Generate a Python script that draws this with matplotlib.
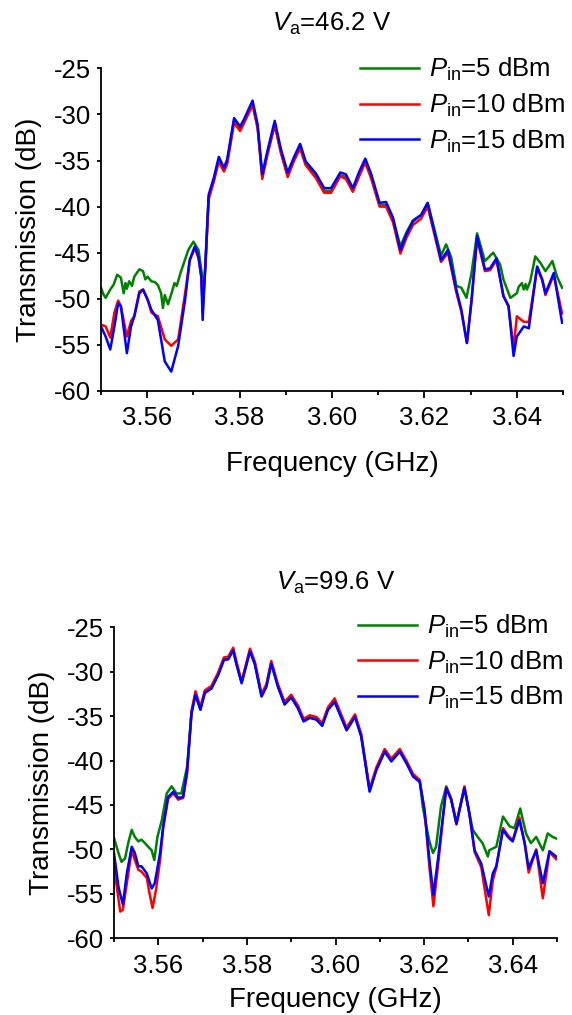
import numpy as np
import matplotlib
matplotlib.use("Agg")
import matplotlib.pyplot as plt
from matplotlib.ticker import MultipleLocator

plt.rcParams['font.family'] = 'Liberation Sans'
plt.rcParams['mathtext.fontset'] = 'custom'
plt.rcParams['mathtext.rm'] = 'Liberation Sans'
plt.rcParams['mathtext.it'] = 'Liberation Sans:italic'
plt.rcParams['axes.unicode_minus'] = False

# ---- V_a = 46.2 V ----
f_top_blue = [3.5500, 3.5510, 3.5520, 3.5529, 3.5537, 3.5543, 3.5556, 3.5565, 3.5572, 3.5583,
              3.5591, 3.5601, 3.5609, 3.5623, 3.5638, 3.5652, 3.5667, 3.5682, 3.5692, 3.5703,
              3.5711, 3.5717, 3.5720, 3.5726, 3.5733, 3.5744, 3.5755, 3.5766, 3.5773, 3.5788,
              3.5801, 3.5809, 3.5828, 3.5839, 3.5849, 3.5860, 3.5876, 3.5889, 3.5904, 3.5918,
              3.5931, 3.5943, 3.5965, 3.5983, 3.5998, 3.6018, 3.6030, 3.6045, 3.6059, 3.6072,
              3.6085, 3.6103, 3.6117, 3.6132, 3.6148, 3.6161, 3.6175, 3.6193, 3.6207, 3.6236,
              3.6251, 3.6269, 3.6280, 3.6292, 3.6302, 3.6314, 3.6331, 3.6342, 3.6356, 3.6371,
              3.6382, 3.6393, 3.6400, 3.6415, 3.6426, 3.6444, 3.6455, 3.6462, 3.6480, 3.6498]
db_top_blue = [-53.0, -54.1, -55.5, -53.0, -50.5, -50.8, -55.9, -53.0, -51.9, -49.4,
               -49.0, -50.1, -51.2, -52.3, -56.8, -57.9, -55.1, -50.1, -45.8, -44.3,
               -45.4, -47.6, -52.3, -46.0, -38.7, -36.9, -34.6, -35.8, -34.9, -30.4,
               -31.3, -30.6, -28.5, -31.1, -36.5, -34.0, -30.7, -33.7, -36.3, -34.6,
               -33.2, -35.1, -36.4, -38.0, -38.0, -36.3, -36.5, -38.0, -36.2, -34.8,
               -36.5, -39.6, -39.5, -41.2, -44.7, -43.0, -41.6, -40.9, -39.6, -45.8,
               -44.7, -49.0, -51.2, -54.8, -50.1, -43.2, -46.8, -46.7, -45.6, -49.7,
               -50.8, -56.2, -54.1, -53.0, -53.2, -46.5, -47.9, -49.4, -47.2, -52.6]

f_top_red = f_top_blue
db_top_red = [-52.8, -53.0, -54.2, -51.5, -50.2, -50.8, -54.1, -52.4, -51.9, -49.2,
              -49.0, -50.1, -51.5, -51.9, -54.4, -55.1, -54.4, -49.4, -45.8, -44.5,
              -45.6, -47.6, -50.5, -46.5, -39.2, -37.3, -35.1, -36.2, -35.4, -30.9,
              -31.8, -31.0, -29.0, -31.5, -37.0, -34.4, -31.2, -34.1, -36.8, -35.0,
              -33.7, -35.5, -36.9, -38.5, -38.5, -36.7, -37.0, -38.4, -36.7, -35.2,
              -37.0, -40.0, -40.0, -41.7, -45.1, -43.4, -42.0, -41.3, -40.0, -46.0,
              -45.0, -49.3, -51.4, -54.8, -50.3, -43.5, -47.0, -46.9, -45.8, -49.7,
              -50.8, -55.4, -51.9, -52.5, -52.5, -46.6, -48.0, -49.6, -47.4, -51.6]

f_top_green = [3.5500, 3.5505, 3.5510, 3.5520, 3.5527, 3.5535, 3.5543, 3.5549, 3.5553, 3.5556,
               3.5561, 3.5567, 3.5572, 3.5583, 3.5591, 3.5596, 3.5601, 3.5609, 3.5617, 3.5623,
               3.5630, 3.5634, 3.5638, 3.5645, 3.5652, 3.5659, 3.5664, 3.5672, 3.5689, 3.5700,
               3.5711, 3.5718, 3.5720, 3.5726, 3.5733, 3.5744, 3.5755, 3.5766, 3.5773, 3.5788,
               3.5801, 3.5809, 3.5828, 3.5839, 3.5849, 3.5860, 3.5876, 3.5889, 3.5904, 3.5918,
               3.5931, 3.5943, 3.5965, 3.5983, 3.5998, 3.6018, 3.6030, 3.6045, 3.6059, 3.6072,
               3.6085, 3.6103, 3.6117, 3.6132, 3.6148, 3.6161, 3.6175, 3.6193, 3.6207, 3.6236,
               3.6247, 3.6258, 3.6269, 3.6280, 3.6291, 3.6302, 3.6314, 3.6331, 3.6349, 3.6364,
               3.6371, 3.6386, 3.6400, 3.6404, 3.6411, 3.6415, 3.6419, 3.6422, 3.6429, 3.6440,
               3.6451, 3.6462, 3.6477, 3.6487, 3.6498]
db_top_green = [-48.8, -49.5, -49.9, -49.0, -48.5, -47.4, -47.7, -49.4, -48.3, -48.9,
                -48.1, -48.6, -47.6, -46.8, -47.0, -47.9, -47.6, -48.1, -48.2, -48.5,
                -49.4, -51.0, -49.6, -50.6, -49.5, -48.3, -48.6, -47.2, -44.7, -43.8,
                -44.7, -47.2, -51.5, -46.3, -39.0, -37.2, -34.9, -36.1, -35.2, -30.7,
                -31.6, -30.9, -28.8, -31.4, -36.8, -34.3, -31.0, -34.0, -36.6, -34.9,
                -33.5, -35.4, -36.7, -38.3, -38.3, -36.6, -36.8, -38.3, -36.5, -35.1,
                -36.8, -39.9, -39.8, -41.4, -44.3, -42.8, -41.5, -40.9, -39.6, -45.3,
                -44.1, -45.5, -48.6, -48.8, -49.9, -47.2, -42.9, -45.9, -45.0, -46.3,
                -47.9, -49.9, -49.4, -48.7, -48.3, -49.0, -48.4, -49.0, -48.1, -45.4,
                -46.1, -47.0, -45.9, -47.6, -48.8]

# ---- V_a = 99.6 V ----
f_bot_blue = [3.5500, 3.5510, 3.5520, 3.5529, 3.5540, 3.5547, 3.5555, 3.5562, 3.5574, 3.5585,
              3.5592, 3.5604, 3.5611, 3.5622, 3.5634, 3.5645, 3.5656, 3.5665, 3.5675, 3.5684,
              3.5695, 3.5705, 3.5720, 3.5735, 3.5748, 3.5758, 3.5769, 3.5776, 3.5788, 3.5807,
              3.5818, 3.5833, 3.5844, 3.5855, 3.5870, 3.5885, 3.5900, 3.5915, 3.5928, 3.5942,
              3.5957, 3.5970, 3.5983, 3.5998, 3.6025, 3.6044, 3.6058, 3.6077, 3.6092, 3.6111,
              3.6126, 3.6145, 3.6160, 3.6175, 3.6190, 3.6201, 3.6212, 3.6221, 3.6231, 3.6250,
              3.6261, 3.6273, 3.6291, 3.6302, 3.6314, 3.6329, 3.6346, 3.6355, 3.6363, 3.6378,
              3.6389, 3.6400, 3.6415, 3.6427, 3.6436, 3.6453, 3.6468, 3.6483, 3.6498]
db_bot_blue = [-50.4, -54.2, -56.2, -52.7, -49.7, -50.4, -51.9, -51.9, -52.7, -54.4,
               -53.8, -50.4, -47.4, -44.1, -43.5, -44.2, -44.1, -41.1, -34.7, -32.6,
               -34.3, -32.4, -31.9, -30.4, -28.7, -28.6, -27.6, -29.1, -31.3, -27.7,
               -29.2, -32.8, -31.7, -29.1, -31.7, -33.7, -32.9, -34.1, -35.6, -35.2,
               -35.4, -36.1, -34.3, -33.4, -36.6, -35.1, -37.3, -43.5, -41.1, -39.0,
               -40.1, -39.0, -40.3, -41.8, -42.4, -45.6, -51.2, -55.1, -51.2, -43.1,
               -44.4, -47.1, -43.1, -45.9, -50.1, -51.6, -55.3, -52.7, -51.9, -47.8,
               -48.6, -49.1, -46.7, -49.3, -52.1, -50.1, -53.8, -50.2, -50.8]

f_bot_red = [3.5500, 3.5514, 3.5520, 3.5529, 3.5540, 3.5547, 3.5555, 3.5562, 3.5574, 3.5580,
             3.5587, 3.5595, 3.5604, 3.5611, 3.5622, 3.5634, 3.5645, 3.5656, 3.5665, 3.5675,
             3.5684, 3.5695, 3.5705, 3.5720, 3.5735, 3.5748, 3.5758, 3.5769, 3.5776, 3.5788,
             3.5807, 3.5818, 3.5833, 3.5844, 3.5855, 3.5870, 3.5885, 3.5900, 3.5915, 3.5928,
             3.5942, 3.5957, 3.5970, 3.5983, 3.5998, 3.6025, 3.6044, 3.6058, 3.6077, 3.6092,
             3.6111, 3.6126, 3.6145, 3.6160, 3.6175, 3.6190, 3.6201, 3.6212, 3.6221, 3.6231,
             3.6250, 3.6261, 3.6273, 3.6291, 3.6302, 3.6314, 3.6329, 3.6346, 3.6355, 3.6363,
             3.6378, 3.6389, 3.6400, 3.6415, 3.6427, 3.6436, 3.6453, 3.6468, 3.6483, 3.6498]
db_bot_red = [-51.9, -57.0, -56.8, -53.8, -50.1, -51.2, -52.3, -52.5, -53.2, -54.9,
              -56.6, -54.5, -51.2, -47.6, -44.3, -43.7, -44.4, -44.2, -41.5, -34.4,
              -32.2, -34.0, -32.1, -31.6, -30.1, -28.4, -28.3, -27.3, -28.8, -31.1,
              -27.4, -28.9, -32.5, -31.4, -28.8, -31.4, -33.4, -32.6, -33.8, -35.3,
              -34.9, -35.1, -35.8, -34.0, -33.0, -36.3, -34.8, -37.0, -43.2, -40.8,
              -38.7, -39.8, -38.7, -40.0, -41.5, -42.2, -45.6, -52.0, -56.4, -52.0,
              -43.0, -44.3, -47.2, -42.9, -45.9, -50.3, -52.0, -57.4, -53.5, -52.0,
              -47.6, -48.4, -49.0, -46.4, -49.3, -52.6, -50.0, -55.5, -50.3, -51.1]

f_bot_green = [3.5500, 3.5510, 3.5517, 3.5525, 3.5532, 3.5540, 3.5547, 3.5555, 3.5562, 3.5570,
               3.5577, 3.5585, 3.5591, 3.5598, 3.5608, 3.5619, 3.5630, 3.5641, 3.5652, 3.5665,
               3.5675, 3.5684, 3.5695, 3.5705, 3.5720, 3.5735, 3.5748, 3.5758, 3.5769, 3.5776,
               3.5788, 3.5807, 3.5818, 3.5833, 3.5844, 3.5855, 3.5870, 3.5885, 3.5900, 3.5915,
               3.5928, 3.5942, 3.5957, 3.5970, 3.5983, 3.5998, 3.6025, 3.6044, 3.6058, 3.6077,
               3.6092, 3.6111, 3.6126, 3.6145, 3.6160, 3.6175, 3.6190, 3.6197, 3.6205, 3.6212,
               3.6220, 3.6227, 3.6238, 3.6250, 3.6261, 3.6273, 3.6291, 3.6302, 3.6310, 3.6321,
               3.6332, 3.6344, 3.6347, 3.6355, 3.6363, 3.6378, 3.6393, 3.6404, 3.6417, 3.6430,
               3.6441, 3.6453, 3.6468, 3.6479, 3.6490, 3.6505]
db_bot_green = [-48.7, -50.4, -51.4, -51.0, -49.3, -47.8, -48.6, -49.1, -48.9, -49.3,
                -49.7, -50.1, -51.2, -48.6, -46.7, -43.7, -42.9, -43.7, -43.7, -40.7,
                -34.6, -32.5, -34.2, -32.3, -31.8, -30.3, -28.6, -28.5, -27.5, -29.0,
                -31.2, -27.6, -29.1, -32.7, -31.6, -29.0, -31.6, -33.6, -32.8, -34.0,
                -35.5, -35.1, -35.3, -36.0, -34.2, -33.3, -36.5, -35.0, -37.2, -43.4,
                -41.0, -38.9, -40.0, -38.9, -40.2, -41.6, -42.2, -45.2, -47.4, -49.1,
                -50.4, -49.7, -45.2, -42.9, -44.3, -47.0, -43.0, -45.9, -47.8, -48.6,
                -49.3, -50.8, -50.1, -49.9, -49.7, -46.3, -47.4, -47.6, -45.4, -48.2,
                -49.3, -48.6, -50.1, -48.2, -48.6, -48.9]

labels = [r'$P_{\mathrm{in}}$=5 dBm', r'$P_{\mathrm{in}}$=10 dBm', r'$P_{\mathrm{in}}$=15 dBm']
colors = ['#008000', '#ff0000', '#0000ff']
yticks = [-25, -30, -35, -40, -45, -50, -55, -60]


def draw_panel(ax, curves, title, leg_anchor, xpad):
    for (f, db), lab, c in zip(curves, labels, colors):
        ax.plot(f, db, color=c, lw=1.8, label=lab, solid_joinstyle='round')
    ax.set_xlim(3.55, 3.65)
    ax.set_ylim(-60, -25)
    ax.set_yticks(yticks)
    ax.xaxis.set_major_locator(MultipleLocator(0.02))
    ax.xaxis.set_minor_locator(MultipleLocator(0.01))
    ax.xaxis.set_major_formatter(plt.FormatStrFormatter('%.2f'))
    for s in ['top', 'right']:
        ax.spines[s].set_visible(False)
    for s in ['left', 'bottom']:
        ax.spines[s].set_linewidth(1.3)
    ax.tick_params(axis='both', direction='out', width=1.3, labelsize=18.5)
    ax.tick_params(axis='x', which='major', length=5, pad=6)
    ax.tick_params(axis='x', which='minor', length=3, width=1.3)
    ax.tick_params(axis='y', length=3, pad=4)
    ax.set_xlabel('Frequency (GHz)', fontsize=20, labelpad=xpad)
    ax.set_ylabel('Transmission (dB)', fontsize=20, labelpad=9)
    ax.annotate(title, xy=(0.5, 1.0), xycoords='axes fraction', xytext=(0, 27),
                textcoords='offset points', ha='center', va='baseline', fontsize=18.5)
    ax.legend(loc='upper left', bbox_to_anchor=leg_anchor, frameon=False, fontsize=18.5,
              handlelength=2.3, handletextpad=0.4, labelspacing=0.33, borderpad=0,
              borderaxespad=0)


fig = plt.figure(figsize=(5.72, 10.15), dpi=100)
ax1 = fig.add_axes([0.1766, 0.6148, 0.8077, 0.3179])
ax2 = fig.add_axes([0.1993, 0.0756, 0.7745, 0.3064])

draw_panel(ax1, [(f_top_green, db_top_green), (f_top_red, db_top_red), (f_top_blue, db_top_blue)],
           r'$V_{\mathrm{a}}$=46.2 V', (0.56, 1.038), 15)
draw_panel(ax2, [(f_bot_green, db_bot_green), (f_bot_red, db_bot_red), (f_bot_blue, db_bot_blue)],
           r'$V_{\mathrm{a}}$=99.6 V', (0.55, 1.047), 6.5)

fig.savefig('out.png', dpi=100)
